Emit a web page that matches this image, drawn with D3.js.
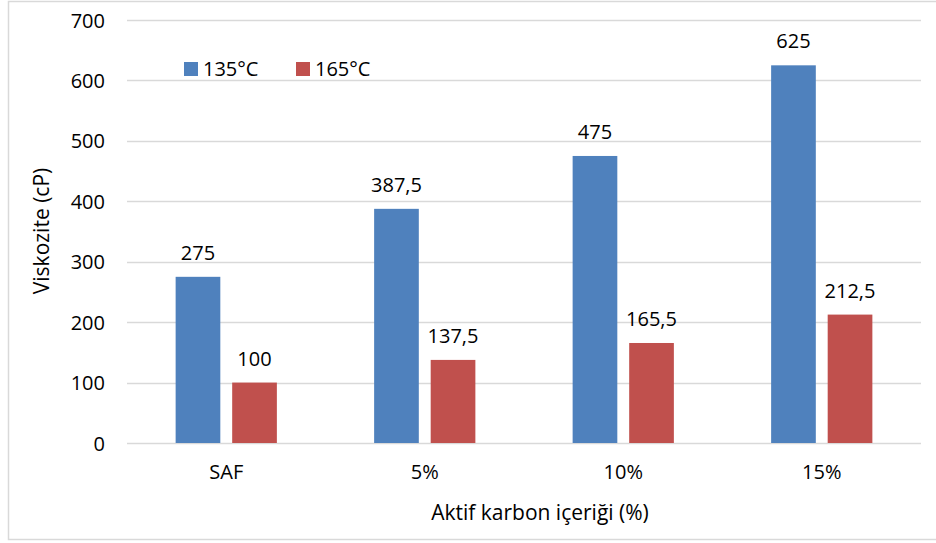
<!DOCTYPE html>
<html>
<head>
<meta charset="utf-8">
<script src="https://cdn.jsdelivr.net/npm/d3@7"></script>
<style>
  body { margin: 0; background: #fff; }
  text { font-family: "Open Sans", "Noto Sans", sans-serif; fill: #000; }
</style>
</head>
<body>
<svg id="chart" width="936" height="543"></svg>
<script>
// chart data
const categories = ['SAF', '5%', '10%', '15%'];
const seriesNames = ['135°C', '165°C'];
const values135 = [275, 387.5, 475, 625];
const values165 = [100, 137.5, 165.5, 212.5];
const yTicks = [0, 100, 200, 300, 400, 500, 600, 700];

const colors = ['#4F81BD', '#C0504D'];
const svg = d3.select('#chart');

// outer frame
svg.append('rect')
    .attr('x', 8.5).attr('y', 1.5)
    .attr('width', 940).attr('height', 538)
    .attr('fill', 'none')
    .attr('stroke', '#D9D9D9')
    .attr('stroke-width', 1.5);

const plot = { left: 127, right: 921, top: 20, bottom: 443 };

const x0 = d3.scaleBand()
    .domain(categories)
    .range([plot.left, plot.right])
    .paddingInner(0.49)
    .paddingOuter(0.245);

const x1 = d3.scaleBand()
    .domain(seriesNames)
    .range([0, x0.bandwidth()])
    .paddingInner(0.21);

const y = d3.scaleLinear()
    .domain([0, 700])
    .range([plot.bottom, plot.top]);

// gridlines
svg.append('g')
    .selectAll('line')
    .data(yTicks)
    .enter()
    .append('line')
    .attr('x1', plot.left).attr('x2', plot.right)
    .attr('y1', d => Math.round(y(d)) + 0.5)
    .attr('y2', d => Math.round(y(d)) + 0.5)
    .attr('stroke', '#D9D9D9')
    .attr('stroke-width', 1.5);

// y axis labels
const yAxis = svg.append('g')
    .attr('transform', `translate(${plot.left - 10},0)`)
    .call(d3.axisLeft(y).tickValues(yTicks).tickSize(0).tickPadding(12));
yAxis.select('.domain').remove();
yAxis.selectAll('text')
    .style('font-size', '20px')
    .style('font-family', '"Open Sans", sans-serif')
    .attr('fill', '#000')
    .attr('dy', '0.35em');

// x axis labels
const xAxis = svg.append('g')
    .attr('transform', `translate(0,${plot.bottom})`)
    .call(d3.axisBottom(x0).tickSize(0).tickPadding(22));
xAxis.select('.domain').remove();
xAxis.selectAll('text')
    .style('font-size', '20px')
    .style('font-family', '"Open Sans", sans-serif')
    .attr('fill', '#000');

// bars
const rows = categories.map((c, i) => ({
    cat: c,
    vals: [
        { s: seriesNames[0], v: values135[i], c: colors[0] },
        { s: seriesNames[1], v: values165[i], c: colors[1] }
    ]
}));

const groups = svg.append('g')
    .selectAll('g')
    .data(rows)
    .enter()
    .append('g')
    .attr('transform', d => `translate(${x0(d.cat)},0)`);

groups.selectAll('rect')
    .data(d => d.vals)
    .enter()
    .append('rect')
    .attr('x', d => x1(d.s))
    .attr('y', d => y(d.v))
    .attr('width', x1.bandwidth())
    .attr('height', d => y(0) - y(d.v))
    .attr('fill', d => d.c);

// value labels, comma decimal
const fmt = v => String(v).replace('.', ',');
groups.selectAll('text')
    .data(d => d.vals)
    .enter()
    .append('text')
    .attr('x', d => x1(d.s) + x1.bandwidth() / 2)
    .attr('y', d => y(d.v) - 17)
    .attr('text-anchor', 'middle')
    .style('font-size', '20px')
    .text(d => fmt(d.v));

// legend
const legend = svg.append('g').attr('transform', 'translate(184,62)');
const legendX = [0, 112];
seriesNames.forEach((s, i) => {
    legend.append('rect')
        .attr('x', legendX[i]).attr('y', 0)
        .attr('width', 14).attr('height', 14)
        .attr('fill', colors[i]);
    legend.append('text')
        .attr('x', legendX[i] + 19).attr('y', 7)
        .attr('dy', '0.35em')
        .style('font-size', '20px')
        .text(s);
});

// axis titles
svg.append('text')
    .attr('transform', 'translate(42,231) rotate(-90)')
    .attr('text-anchor', 'middle')
    .attr('dy', '0.35em')
    .style('font-size', '21px')
    .text('Viskozite (cP)');

svg.append('text')
    .attr('x', 540).attr('y', 513)
    .attr('text-anchor', 'middle')
    .attr('dy', '0.35em')
    .style('font-size', '21px')
    .text('Aktif karbon içeriği (%)');
</script>
</body>
</html>
